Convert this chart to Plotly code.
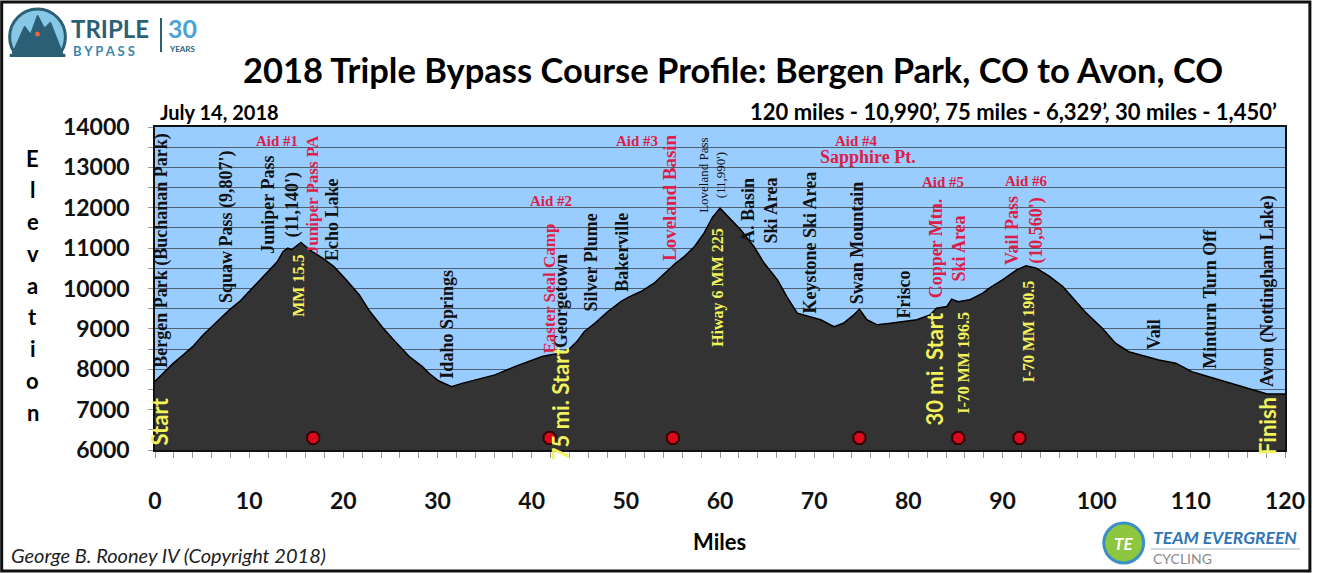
import plotly.graph_objects as go

# ---------------- data ----------------
miles = [0, 0.9, 1.9, 3.0, 4.0, 5.1, 6.2, 7.0, 7.9, 9.0, 10.0, 11.1, 12.2, 13.0, 13.6, 14.1, 14.5, 15.0, 15.5,
         16.0, 16.7, 17.8, 19.0, 20.3, 21.7, 22.7, 24.1, 25.5, 27.0, 28.4, 29.1, 30.1, 31.5, 32.6, 34.0, 36.1,
         38.2, 39.6, 41.1, 42.5, 43.9, 44.8, 45.6, 46.7, 48.1, 49.5, 50.4, 51.6, 53.0, 54.5, 55.3, 56.2, 57.3,
         58.3, 59.2, 60.0, 61.2, 62.2, 63.6, 64.7, 66.1, 67.1, 68.2, 69.6, 70.7, 72.1, 73.1, 74.2, 74.8, 75.6,
         76.7, 78.1, 79.5, 80.9, 82.3, 83.0, 84.1, 84.6, 85.3, 86.5, 87.9, 88.6, 90.0, 91.5, 92.5, 93.6, 95.0,
         96.4, 97.5, 98.9, 100.6, 102.0, 103.4, 104.9, 106.6, 108.4, 110.1, 111.9, 113.7, 115.4, 117.2, 118.1, 120]
elevation = [7700, 7900, 8140, 8355, 8560, 8850, 9100, 9265, 9470, 9680, 9925, 10215, 10460, 10670, 10915, 11000,
             10960, 11060, 11140, 11040, 10915, 10750, 10545, 10215, 9840, 9470, 9055, 8685, 8315, 8065, 7900,
             7715, 7570, 7650, 7735, 7860, 8065, 8190, 8315, 8380, 8480, 8685, 8935, 9140, 9430, 9680, 9800,
             9925, 10130, 10460, 10630, 10790, 11040, 11370, 11760, 11990, 11700, 11455, 11040, 10625, 10215,
             9800, 9390, 9305, 9225, 9055, 9140, 9345, 9490, 9225, 9100, 9140, 9180, 9225, 9345, 9510, 9555,
             9735, 9675, 9720, 9885, 10010, 10215, 10460, 10560, 10505, 10300, 10050, 9760, 9390, 9015, 8645,
             8435, 8330, 8230, 8150, 7940, 7815, 7695, 7570, 7445, 7390, 7390]
assert len(miles) == len(elevation)

aid_miles = [16.8, 41.9, 55.0, 74.8, 85.3, 91.8]
aid_elev = [6300, 6300, 6300, 6300, 6300, 6300]

x_ticks = [0, 10, 20, 30, 40, 50, 60, 70, 80, 90, 100, 110, 120]
y_ticks = [6000, 7000, 8000, 9000, 10000, 11000, 12000, 13000, 14000]
y_tick_text = ["6000", "7000", "8000", "9000", "10000", "11000", "12000", "13000", "14000"]

# place labels (vertical, black)
black_text = ["Bergen Park (Buchanan Park)", "Squaw Pass (9,807')", "Juniper Pass<br>(11,140')", "Echo Lake",
              "Idaho Springs", "Georgetown", "Silver Plume", "Bakerville", "A. Basin<br>Ski Area",
              "Keystone Ski Area", "Swan Mountain", "Frisco", "Vail", "Minturn Turn Off", "Avon (Nottingham Lake)"]
black_x = [0.74, 7.61, 13.27, 18.82, 30.98, 43.14, 46.31, 49.59, 64.23, 69.57, 74.54, 79.51, 106.05, 112.08, 118.21]
black_y = [10958, 11540, 12073, 11702, 9123, 9694, 10648, 10908, 11925, 11144, 11144, 9842, 8851, 9756, 9942]

# aid-station labels (red)
red_text = ["Aid #1", "Juniper Pass PA", "Aid #2", "Easter Seal Camp", "Aid #3", "Loveland Basin", "Aid #4",
            "Sapphire Pt.", "Aid #5", "Copper Mtn.<br>Ski Area", "Aid #6", "Vail Pass<br>(10,560')"]
red_x = [13.0, 16.71, 42.08, 41.87, 51.17, 54.66, 74.54, 75.70, 83.63, 84.16, 92.51, 92.3]
red_y = [13660, 12321, 12172, 10004, 13660, 12259, 13660, 13263, 12644, 10983, 12668, 11429]
red_vertical = [False, True, False, True, False, True, False, False, False, True, False, True]
red_size = [15, 17, 15, 17, 15, 19, 15, 18, 15, 18, 15, 18]

# mile-marker labels (yellow serif)
mm_text = ["MM 15.5", "Hiway 6 MM 225", "I-70 MM 196.5", "I-70 MM 190.5"]
mm_x = [15.23, 59.84, 85.85, 92.73]
mm_y = [10078, 10028, 8169, 8938]

# start / finish labels (yellow sans)
sf_text = ["Start", "75 mi. Start", "30 mi. Start", "Finish"]
sf_x = [0.53, 43.14, 82.79, 118.21]
sf_y = [6706, 7165, 8008, 6595]

# ---------------- layout helpers ----------------
W, H = 1317, 573
L, R, T, B = 155, 1290, 127, 450


def px(x):
    return (x - L) / (R - L)


def py(y):
    return (B - y) / (B - T)


SERIF = "Liberation Serif, Times New Roman, serif"
SANS = "Lato, Open Sans, sans-serif"
RED = "#dc1f48"
YEL = "#f2f25c"

fig = go.Figure()

fig.add_trace(go.Scatter(
    x=miles, y=elevation, mode="lines", fill="tozeroy",
    fillcolor="#333333", line=dict(color="#000000", width=1.5),
    hoverinfo="x+y", showlegend=False))

fig.add_trace(go.Scatter(
    x=aid_miles, y=aid_elev, mode="markers",
    marker=dict(symbol="octagon", size=13, color="#d80a1c", line=dict(color="#3a0000", width=2)),
    showlegend=False, cliponaxis=False))

ann = []
for t, x, y in zip(black_text, black_x, black_y):
    ann.append(dict(x=x, y=y, text=t, textangle=-90, showarrow=False,
                    font=dict(family=SERIF, size=18, color="#111111", weight="bold")))
for t, x, y, v, s in zip(red_text, red_x, red_y, red_vertical, red_size):
    ann.append(dict(x=x, y=y, text=t, textangle=-90 if v else 0, showarrow=False,
                    font=dict(family=SERIF, size=s, color=RED, weight="bold")))
for t, x, y in zip(mm_text, mm_x, mm_y):
    ann.append(dict(x=x, y=y, text=t, textangle=-90, showarrow=False,
                    font=dict(family=SERIF, size=16, color=YEL, weight="bold")))
# Loveland Pass label uses a smaller font
ann.append(dict(x=59.16, y=12792, text="Loveland Pass<br>(11,990')", textangle=-90, showarrow=False,
                font=dict(family=SERIF, size=13, color="#111111")))
for t, x, y in zip(sf_text, sf_x, sf_y):
    ann.append(dict(x=x, y=y, text=t, textangle=-90, showarrow=False,
                    font=dict(family=SANS, size=22, color=YEL, weight="bold")))


# titles and texts outside plot
def ptext(x, y, text, size, color="#000000", family=SANS, weight="bold", xanchor="center",
          style="normal", yanchor="middle"):
    ann.append(dict(xref="paper", yref="paper", x=px(x), y=py(y), text=text, showarrow=False,
                    xanchor=xanchor, yanchor=yanchor,
                    font=dict(family=family, size=size, color=color, weight=weight, style=style)))


ptext(736, 70, "2018 Triple Bypass Course Profile: Bergen Park, CO to Avon, CO", 34.5)
ptext(158, 112, "July 14, 2018", 20, xanchor="left")
ptext(1284, 112, "120 miles - 10,990\u2019, 75 miles - 6,329\u2019, 30 miles - 1,450\u2019", 22, xanchor="right")
ptext(722, 541, "Miles", 22)
ptext(8, 555, "George B. Rooney IV (Copyright 2018)", 20, color="#222222", weight="normal",
      xanchor="left", style="italic")
for i, ch in enumerate("Elevation"):
    ptext(32, 158 + i * 31.75, ch, 22)

# logo texts
ptext(69, 45, "TRIPLE", 24, color="#2b5f75", xanchor="left", yanchor="bottom")
ptext(71, 41, "B Y P A S S", 13, color="#3b86ad", xanchor="left", yanchor="top")
ptext(166, 45, "30", 25, color="#4aa3d8", xanchor="left", yanchor="bottom")
ptext(167, 42, "YEARS", 8, color="#2b5f75", xanchor="left", yanchor="top")
ptext(1155, 550, "TEAM EVERGREEN", 17.5, color="#2e75b6", xanchor="left", style="italic", yanchor="bottom")
ptext(1155, 548, "CYCLING", 14, color="#8a8a8a", weight="normal", xanchor="left", yanchor="top")
ptext(1128, 543, "TE", 17, color="#ffffff", style="italic")

shapes = []
# outer frame
shapes.append(dict(type="rect", xref="paper", yref="paper", x0=px(1), x1=px(1315), y0=py(571), y1=py(2),
                   line=dict(color="#111111", width=3), fillcolor="rgba(0,0,0,0)", layer="above"))
# top-left logo dome
shapes.append(dict(type="circle", xref="paper", yref="paper", x0=px(9), x1=px(65), y0=py(65), y1=py(9),
                   line=dict(color="#2b5f75", width=3), fillcolor="#86c8e6"))
shapes.append(dict(type="rect", xref="paper", yref="paper", x0=px(5), x1=px(69), y0=py(68), y1=py(56),
                   line=dict(width=0), fillcolor="#ffffff"))
mount = [(11, 55), (24, 26), (30, 34), (37, 15), (44, 28), (50, 22), (63, 55)]
path = "M " + " L ".join(f"{px(a)},{py(b)}" for a, b in mount) + " Z"
shapes.append(dict(type="path", xref="paper", yref="paper", path=path, fillcolor="#2b5f75",
                   line=dict(color="#2b5f75", width=1)))
shapes.append(dict(type="line", xref="paper", yref="paper", x0=px(9), x1=px(65), y0=py(55.5), y1=py(55.5),
                   line=dict(color="#2b5f75", width=3)))
shapes.append(dict(type="circle", xref="paper", yref="paper", x0=px(34.5), x1=px(39.5), y0=py(36.5), y1=py(31.5),
                   line=dict(width=0), fillcolor="#e8603c"))
shapes.append(dict(type="line", xref="paper", yref="paper", x0=px(161), x1=px(161), y0=py(52), y1=py(18),
                   line=dict(color="#2b5f75", width=2)))
# bottom-right logo
shapes.append(dict(type="circle", xref="paper", yref="paper", x0=px(1108), x1=px(1148), y0=py(563), y1=py(523),
                   line=dict(color="#3b8fc7", width=3), fillcolor="#8dc63f"))
shapes.append(dict(type="line", xref="paper", yref="paper", x0=px(1155), x1=px(1305), y0=py(549), y1=py(549),
                   line=dict(color="#9fb8cc", width=1)))

fig.update_layout(
    width=W, height=H,
    margin=dict(l=L, r=W - R, t=T, b=H - B, pad=0),
    paper_bgcolor="#ffffff", plot_bgcolor="#99ccff",
    annotations=ann, shapes=shapes, showlegend=False,
    xaxis=dict(range=[0, 120], tickvals=x_ticks, ticks="outside", ticklen=6, tickcolor="#999999",
               showgrid=False, zeroline=False, showline=True, linecolor="#111111", linewidth=1.5, mirror=True,
               ticklabelstandoff=24,
               tickfont=dict(family=SANS, size=23, color="#111111", weight="bold"),
               minor=dict(dtick=2, ticks="outside", ticklen=6, tickcolor="#999999", showgrid=False)),
    yaxis=dict(range=[6000, 14000], tickvals=y_ticks, ticktext=y_tick_text, ticks="outside", ticklen=5,
               tickcolor="#999999",
               showgrid=True, gridcolor="#4f6070", gridwidth=1, zeroline=False,
               showline=True, linecolor="#111111", linewidth=1.5, mirror=True,
               ticklabelstandoff=14,
               tickfont=dict(family=SANS, size=23, color="#111111", weight="bold"),
               minor=dict(dtick=500, ticks="outside", ticklen=5, tickcolor="#999999",
                          showgrid=True, gridcolor="#4f6070", gridwidth=1)),
)

fig.write_html("out.html", config={"displayModeBar": False},
               post_script="document.body.style.margin='0';")
